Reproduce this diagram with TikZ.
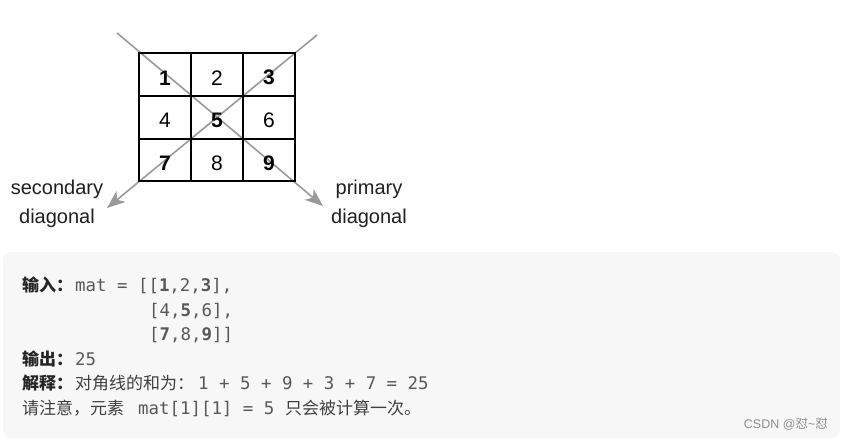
\documentclass[tikz,border=0pt]{standalone}
\usepackage{fontspec}
\setmainfont{Liberation Sans}
\setmonofont{DejaVu Sans Mono}
\newfontfamily\cjk{Noto Sans CJK SC}
\usetikzlibrary{arrows.meta}
\definecolor{boxgray}{HTML}{F7F7F7}
\definecolor{diaggray}{HTML}{9A9A9A}
\definecolor{codegray}{HTML}{585858}
\definecolor{textgray}{HTML}{404040}
\newcommand{\lbl}[1]{{\cjk\bfseries\color{black!85}#1}}
\newcommand{\code}[1]{{\ttfamily\fontsize{17.4}{20}\selectfont\color{codegray}#1}}

\begin{document}
\begin{tikzpicture}[x=1pt,y=-1pt,
  cell/.style={draw,line width=1.9pt,minimum width=52pt,minimum height=42.7pt,
    inner sep=0pt,text height=21pt,font=\fontsize{21}{25}\selectfont},
  diag/.style={draw=diaggray,line width=1.6pt,
    -{Stealth[length=18pt,width=14pt,inset=5pt]}},
  caption/.style={font=\fontsize{20}{24}\selectfont,text=black!88},
  line/.style={anchor=base west,inner sep=0pt,font=\cjk\fontsize{17}{20}\selectfont,text=textgray}]
  \useasboundingbox (0,0) rectangle (843,440);

  % diagonals go underneath the grid
  \coordinate (pri-s) at (117,33);
  \coordinate (pri-e) at (323,206);
  \coordinate (sec-s) at (317,35);
  \coordinate (sec-e) at (107,208);
  \draw[diag] (pri-s) -- (pri-e);
  \draw[diag] (sec-s) -- (sec-e);

  % the odd entries are exactly the ones on a diagonal
  \foreach \v in {1,...,9} {
    \pgfmathtruncatemacro{\c}{mod(\v-1,3)}
    \pgfmathtruncatemacro{\r}{div(\v-1,3)}
    \node[cell] (n\v) at (165+52*\c,74.5+42.7*\r) {\ifodd\v\bfseries\fi\v};
  }

  \node[caption] (sec1) at (57,189) {secondary};
  \node[caption] (sec2) at (57,218) {diagonal};
  \node[caption] (pri1) at (369,189) {primary};
  \node[caption] (pri2) at (369,218) {diagonal};

  % example box
  \fill[boxgray,rounded corners=8pt] (3,252) rectangle (840,438);
  \node[line] (in-l) at (22,291) {\lbl{输入：}};
  \node[line] (in-1) at (75,291) {\code{mat = [[\textbf{1},2,\textbf{3}],}};
  \node[line] (in-2) at (149,316) {\code{[4,\textbf{5},6],}};
  \node[line] (in-3) at (149,340) {\code{[\textbf{7},8,\textbf{9}]]}};
  \node[line] (out-l) at (22,365) {\lbl{输出：}};
  \node[line] (out) at (75,365) {\code{25}};
  \node[line] (ex-l) at (22,389) {\lbl{解释：}};
  \node[line] (ex-1) at (75,389) {对角线的和为：};
  \node[line] (ex-2) at (198,389) {\code{1 + 5 + 9 + 3 + 7 = 25}};
  \node[line] (nt-1) at (22,414) {请注意，元素};
  \node[line] (nt-2) at (138,414) {\code{mat[1][1] = 5}};
  \node[line] (nt-3) at (285,414) {只会被计算一次。};

  \node[anchor=east,inner sep=0pt,font=\fontsize{12.5}{14}\selectfont,text=black!45]
    (mark) at (828,424) {CSDN @{\cjk 怼}\textasciitilde{\cjk 怼}};
\end{tikzpicture}
\end{document}
